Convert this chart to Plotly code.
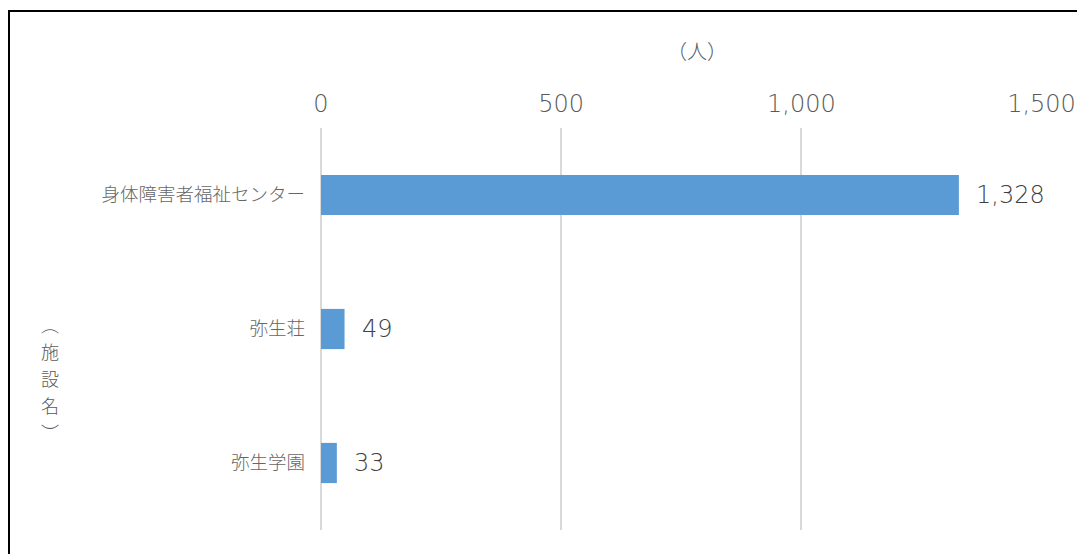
import plotly.graph_objects as go

categories = ["身体障害者福祉センター", "弥生荘", "弥生学園"]
values = [1328, 49, 33]
tick_vals = [0, 500, 1000, 1500]
tick_text = ["0", "500", "1,000", "1,500"]
y_title_chars = ["︵", "施", "設", "名", "︶"]

W, H = 1085, 554
L, R, T, B = 313, 51, 120, 32
PW, PH = W - L - R, H - T - B

def px_x(p):
    return (p - L) / PW

def px_y(p):
    return (H - B - p) / PH

NUM_FONT = "DejaVu Sans"
JP_FONT = "Noto Sans CJK JP"

fig = go.Figure()
fig.add_trace(go.Bar(
    y=categories, x=values, orientation="h",
    marker=dict(color="#5B9BD5", line=dict(width=0)),
    width=0.3, hoverinfo="skip",
))

for c, v in zip(categories, values):
    fig.add_annotation(x=v, y=c, xref="x", yref="y", text=f"{v:,}",
                       showarrow=False, xanchor="left", yanchor="middle", xshift=15,
                       font=dict(size=24, color="#404040", family=NUM_FONT, weight=200))

fig.update_layout(
    width=W, height=H,
    margin=dict(l=L, r=R, t=T, b=B),
    paper_bgcolor="white", plot_bgcolor="white",
    showlegend=False,
    font=dict(family=JP_FONT, color="#595959"),
    xaxis=dict(side="top", range=[0, 1501], tickvals=tick_vals, ticktext=tick_text,
               showgrid=True, gridcolor="#D9D9D9", gridwidth=2,
               zeroline=True, zerolinecolor="#D9D9D9", zerolinewidth=2,
               showline=False, ticks="", ticklabelstandoff=10,
               tickfont=dict(size=24, color="#595959", family=NUM_FONT, weight=200)),
    yaxis=dict(autorange="reversed", showgrid=False, zeroline=False, showline=False,
               ticks="", ticklabelstandoff=15,
               tickfont=dict(size=18.5, color="#666666", family=JP_FONT, weight=300)),
)

fig.add_annotation(x=px_x(689), y=px_y(42), xref="paper", yref="paper",
                   xanchor="center", yanchor="middle",
                   text="（人）", showarrow=False,
                   font=dict(size=20, color="#595959", family=JP_FONT, weight=300))

title_top = 316
step = 27
for i, ch in enumerate(y_title_chars):
    fig.add_annotation(x=px_x(42), y=px_y(title_top + i * step), xref="paper", yref="paper",
                       xanchor="center", yanchor="middle",
                       text=ch, showarrow=False,
                       font=dict(size=18, color="#595959", family=JP_FONT, weight=300))

fig.add_shape(type="rect", xref="paper", yref="paper",
              x0=px_x(1), x1=1.2,
              y0=-0.3, y1=px_y(3),
              line=dict(color="black", width=2), layer="below")

fig.write_html("out.html")
